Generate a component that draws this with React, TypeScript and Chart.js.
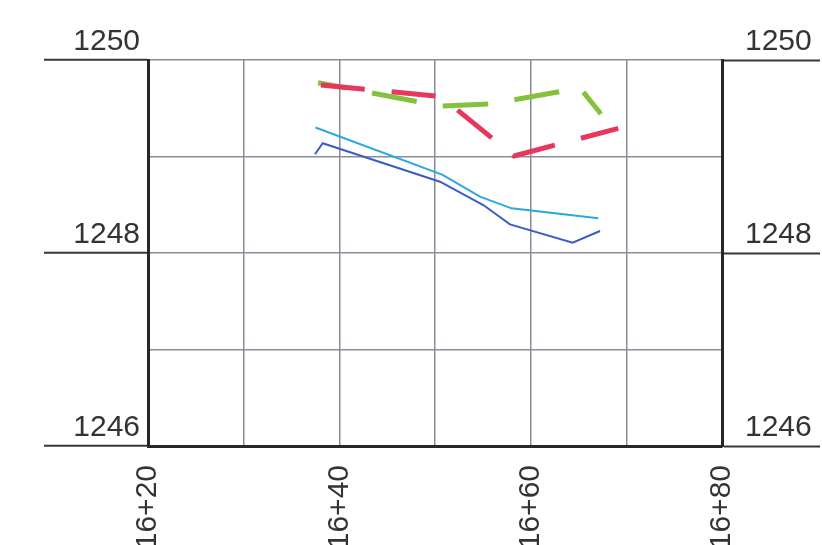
import React, { useEffect, useRef } from 'react';
import { Chart, registerables } from 'chart.js';

Chart.register(...registerables);

// Stations (chainage, in metres: 1620 = 16+20)
const xMin = 1620;
const xMax = 1680;
const yMin = 1246;
const yMax = 1250;

const redStations = [1638.08, 1650.63, 1658.26, 1669.16];
const redElev = [1249.741, 1249.621, 1249.005, 1249.292];

const greenStations = [1637.77, 1650.52, 1655.75, 1665.16, 1667.35];
const greenElev = [1249.765, 1249.523, 1249.544, 1249.71, 1249.44];

const cyanStations = [1637.5, 1650.8, 1654.7, 1658.0, 1667.07];
const cyanElev = [1249.3, 1248.81, 1248.584, 1248.463, 1248.36];

const blueStations = [1637.46, 1638.26, 1650.52, 1655.05, 1657.84, 1664.39, 1667.25];
const blueElev = [1249.023, 1249.137, 1248.739, 1248.497, 1248.297, 1248.107, 1248.228];

const xLabelStations = [1620, 1640, 1660, 1680];
const yLabelValues = [1246, 1248, 1250];

const toPts = (xs: number[], ys: number[]) => xs.map((x, i) => ({ x, y: ys[i] }));

const fmtStation = (v: number) => {
  const hundreds = Math.floor(v / 100);
  const rest = Math.round(v - hundreds * 100);
  return `${hundreds}+${String(rest).padStart(2, '0')}`;
};

export default function App() {
  const ref = useRef<HTMLCanvasElement>(null);

  useEffect(() => {
    Chart.defaults.font.family = "'Liberation Sans', Arial, sans-serif";
    const gridColor = '#8c8c98';
    const darkColor = '#2a2626';
    const tickCol = (ctx: any) =>
      ctx.tick && yLabelValues.includes(Math.round(ctx.tick.value)) ? '#3a3636' : 'rgba(0,0,0,0)';

    const chart = new Chart(ref.current!, {
      type: 'line',
      data: {
        datasets: [
          {
            data: toPts(redStations, redElev),
            borderColor: '#e8375c',
            borderWidth: 5,
            borderDash: [44, 27],
            borderCapStyle: 'butt',
            pointRadius: 0,
            tension: 0,
          },
          {
            data: toPts(greenStations, greenElev),
            borderColor: '#84c23e',
            borderWidth: 5,
            borderDash: [45.5, 26.5],
            borderDashOffset: 17,
            borderCapStyle: 'butt',
            pointRadius: 0,
            tension: 0,
          },
          {
            data: toPts(cyanStations, cyanElev),
            borderColor: '#2aa8e0',
            borderWidth: 2,
            pointRadius: 0,
            tension: 0,
          },
          {
            data: toPts(blueStations, blueElev),
            borderColor: '#3c5cc6',
            borderWidth: 2,
            pointRadius: 0,
            tension: 0,
          },
        ],
      },
      options: {
        animation: false,
        responsive: false,
        layout: { padding: { top: 60, left: 0, right: 0, bottom: 0 } },
        plugins: { legend: { display: false }, tooltip: { enabled: false } },
        scales: {
          x: {
            type: 'linear',
            position: 'bottom',
            min: xMin,
            max: xMax,
            ticks: {
              stepSize: 10,
              autoSkip: false,
              minRotation: 90,
              maxRotation: 90,
              padding: 19,
              color: '#333',
              font: { size: 30 },
              callback: (v: any) => (xLabelStations.includes(Math.round(Number(v))) ? fmtStation(Number(v)) : ''),
            },
            grid: { color: gridColor, lineWidth: 1.5, drawTicks: false },
            border: { color: darkColor, width: 3 },
            afterFit: (s: any) => {
              s.height = 99;
            },
          },
          y: {
            type: 'linear',
            position: 'left',
            min: yMin,
            max: yMax,
            ticks: {
              stepSize: 1,
              padding: -96,
              labelOffset: -18,
              color: '#333',
              font: { size: 30 },
              callback: (v: any) => (yLabelValues.includes(Math.round(Number(v))) ? String(v) : ''),
            },
            grid: { color: gridColor, lineWidth: 1.5, tickLength: 104, tickColor: tickCol, tickWidth: 2 },
            border: { color: darkColor, width: 3 },
            afterFit: (s: any) => {
              s.width = 148;
            },
          },
          y2: {
            type: 'linear',
            position: 'right',
            min: yMin,
            max: yMax,
            ticks: {
              stepSize: 1,
              padding: -75,
              labelOffset: -18,
              color: '#333',
              font: { size: 30 },
              callback: (v: any) => (yLabelValues.includes(Math.round(Number(v))) ? String(v) : ''),
            },
            grid: { drawOnChartArea: false, tickLength: 98, tickColor: tickCol, tickWidth: 2 },
            border: { color: darkColor, width: 3 },
            afterFit: (s: any) => {
              s.width = 100;
            },
          },
        },
      },
    });
    return () => chart.destroy();
  }, []);

  return (
    <div style={{ position: 'absolute', left: 0, top: 0, width: 822, height: 545, background: '#fff' }}>
      <canvas ref={ref} width={822} height={545} style={{ display: 'block' }} />
    </div>
  );
}
